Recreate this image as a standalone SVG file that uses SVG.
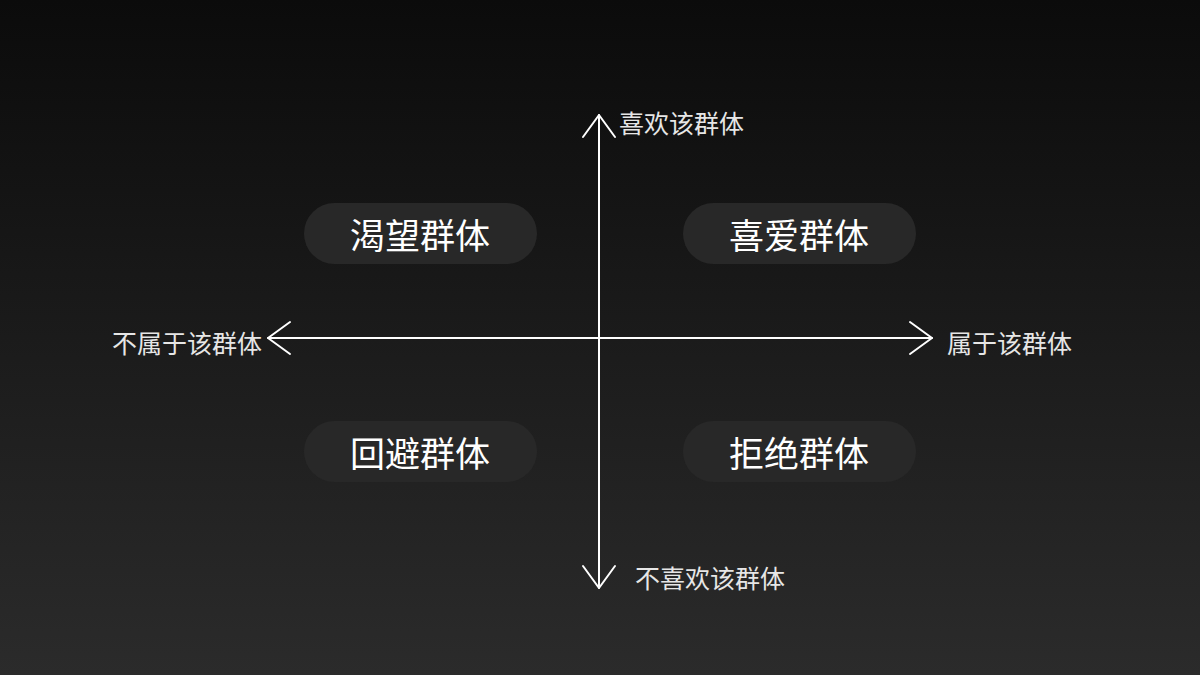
<svg xmlns="http://www.w3.org/2000/svg" width="1200" height="675" viewBox="0 0 1200 675">
<defs>
<linearGradient id="bg" x1="0" y1="0" x2="0" y2="1">
<stop offset="0" stop-color="#0b0b0b"/>
<stop offset="1" stop-color="#2b2b2b"/>
</linearGradient>
<style>
.pill{fill:#282828}
.pt{font-family:"Noto Sans CJK SC","Noto Sans",sans-serif;font-size:35px;fill:#ffffff;text-anchor:middle;dominant-baseline:central}
.lb{font-family:"Noto Sans CJK SC","Noto Sans",sans-serif;font-size:25px;fill:#e6e6e6;dominant-baseline:central}
.ax{stroke:#ffffff;stroke-width:2;fill:none;stroke-linecap:round;stroke-linejoin:round}
</style>
</defs>
<rect width="1200" height="675" fill="url(#bg)"/>
<g id="connectors">
<line class="ax" x1="599" y1="115" x2="599" y2="588"/>
<polyline class="ax" points="583,137 599,115 615,137"/>
<polyline class="ax" points="583,566 599,588 615,566"/>
<line class="ax" x1="268" y1="338" x2="932" y2="338"/>
<polyline class="ax" points="290,322 268,338 290,354"/>
<polyline class="ax" points="910,322 932,338 910,354"/>
</g>
<g id="label-top"><text class="lb" x="619" y="122">喜欢该群体</text></g>
<g id="label-bottom"><text class="lb" x="635" y="577">不喜欢该群体</text></g>
<g id="label-left"><text class="lb" x="262" y="342" text-anchor="end">不属于该群体</text></g>
<g id="label-right"><text class="lb" x="947" y="342">属于该群体</text></g>
<g id="node-kewang"><rect class="pill" x="304" y="203" width="233" height="61" rx="30.5"/><text class="pt" x="420" y="233">渴望群体</text></g>
<g id="node-xiai"><rect class="pill" x="683" y="203" width="233" height="61" rx="30.5"/><text class="pt" x="799" y="233">喜爱群体</text></g>
<g id="node-huibi"><rect class="pill" x="304" y="421" width="233" height="61" rx="30.5"/><text class="pt" x="420" y="451">回避群体</text></g>
<g id="node-jujue"><rect class="pill" x="683" y="421" width="233" height="61" rx="30.5"/><text class="pt" x="799" y="451">拒绝群体</text></g>
</svg>
